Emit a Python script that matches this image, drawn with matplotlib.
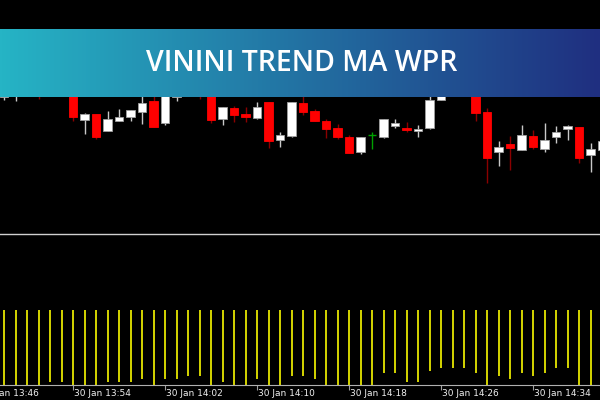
import numpy as np
import matplotlib
matplotlib.use("Agg")
import matplotlib.pyplot as plt

# one-minute candles, bar 0 = 13:48 (price in chart points)
opens = [153, 158, 180, 175, 162, 185, 170, 130, 136, 119.3, 129.3, 133, 138.3, 149, 127,
         153, 165, 180, 170, 130.7, 141.7, 136, 132, 147.7, 109.7, 114, 146.7, 139, 129,
         122.3, 113, 98.3, 115, 113.3, 124.3, 122.3, 119.3, 121.7, 150, 170, 190, 175,
         138.3, 98.3, 105.7, 100, 114, 101.3, 112.7, 120.7, 123, 94.7, 100]
highs = [160, 175, 185, 180, 184, 190, 174, 137, 136, 139, 141, 140, 160, 157, 165,
         180, 185, 185, 175, 143.3, 144.3, 142.7, 147.7, 148.3, 117.7, 147.7, 158, 140.7, 130.7,
         126, 114.7, 113, 118, 130.7, 130.7, 127.7, 124.7, 155, 175, 195, 195, 180,
         141.7, 109, 114, 125, 120, 127, 124, 125, 123, 107, 115]
lows = [150.5, 149.3, 158, 151.3, 158, 160, 129.3, 115.7, 110.7, 119.3, 129.3, 129.3, 126.3, 123.3, 125.3,
        149.3, 160, 151, 127.3, 125, 128.3, 128.3, 131.3, 101.7, 103.3, 113, 135, 129.3, 112.3,
        110.7, 97.3, 96.3, 100.7, 112, 122, 118.3, 113.3, 120.7, 150, 165, 165, 129.3,
        66.7, 84.3, 80, 100, 101.3, 98.3, 106.7, 110, 87.3, 78.3, 98]
closes = [158, 170, 165, 160, 178, 165, 133.3, 135.7, 113.3, 131, 132.7, 139.7, 146.7, 123.3, 162,
          170, 180, 160, 130, 143.3, 135, 133.3, 143.3, 109.3, 115.3, 147.7, 138.3, 129.3, 120.7,
          113.3, 97.3, 113, 115, 130.7, 127, 120.3, 121, 150, 170, 190, 170, 137.3,
          92.3, 103.5, 102.3, 114.7, 102.7, 110, 118, 123.7, 91.7, 101, 109.5]

# WPR histogram lower ends (top of every line is fixed)
wpr_low = [0, 0, 0, 0, 3.3, 3.3, 0, 0, 0, 3.3, 3.3, 3.3, 6, 0, 6, 6, 9, 9, 0, 3.3,
           0, 0, 6, 0, 0, 9, 9, 6, 0, 0, 0, 0, 0, 12.3, 12.3, 3.3, 3.3, 14.3, 17.3, 17.3,
           17.3, 12.3, 0, 9, 6, 12.3, 9, 12.3, 17.3, 17.3, 0, 0]
wpr_top = 75

tick_bars = [-2, 6, 14, 22, 30, 38, 46]
tick_labels = ["30 Jan 13:46", "30 Jan 13:54", "30 Jan 14:02", "30 Jan 14:10",
               "30 Jan 14:18", "30 Jan 14:26", "30 Jan 14:34"]

title = "VININI TREND MA WPR"

W, H = 600, 400
fig = plt.figure(figsize=(6, 4), dpi=100, facecolor="black")

xlim = (-4 / 11.5, 596 / 11.5)

# price pane
ax = fig.add_axes([0, 1 - 233 / H, 1, 233 / H], facecolor="black")
ax.set_xlim(*xlim)
ax.set_ylim(17, 250)
ax.axis("off")

for i, (o, h, l, c) in enumerate(zip(opens, highs, lows, closes)):
    if c > o:
        wick, face, edge = "#c8c8c8", "white", "#a0a0a0"
    elif c < o:
        wick, face, edge = "#8b0000", "#ff0000", "#ff0000"
    else:
        wick, face, edge = "#00a000", None, None
    ax.vlines(i, l, h, color=wick, lw=1, zorder=1)
    if face is None:
        ax.hlines(o, i - 0.35, i + 0.35, color=wick, lw=1, zorder=2)
    else:
        ax.bar(i, abs(c - o), bottom=min(o, c), width=0.7, color=face,
               edgecolor=edge, lw=0.6, zorder=2)

# separator between panes
fig.add_artist(plt.Line2D([0, 1], [1 - 234 / H] * 2, color="#d0d0d0", lw=1))

# indicator pane
ax2 = fig.add_axes([0, 15 / H, 1, 149 / H], facecolor="black")
ax2.set_xlim(*xlim)
ax2.set_ylim(0, 149)
idx = np.arange(len(wpr_low))
ax2.vlines(idx, wpr_low, wpr_top, color="#e6e600", lw=1.3)
for s in ("top", "left", "right"):
    ax2.spines[s].set_visible(False)
ax2.spines["bottom"].set_color("#b0b0b0")
ax2.set_yticks([])
ax2.set_xticks([b for b in tick_bars if b >= 0])
ax2.set_xticklabels([])
ax2.tick_params(axis="x", direction="out", length=3.5, color="#a0a0a0")
for b, lab in zip(tick_bars, tick_labels):
    ax2.text(b + 0.08, -0.06, lab, transform=ax2.get_xaxis_transform(),
             ha="left", va="center", fontsize=6.5, color="#f0f0f0", clip_on=False)

# title banner
axb = fig.add_axes([0, 1 - 97 / H, 1, 68 / H])
left = np.array([38, 180, 197]) / 255
right = np.array([31, 47, 128]) / 255
t = np.linspace(0, 1, 300)[None, :, None]
grad = left + (right - left) * t
axb.imshow(grad, aspect="auto", extent=[0, 1, 0, 1])
axb.set_xlim(0, 1)
axb.set_ylim(0, 1)
axb.axis("off")
axb.text(0.503, (97 - 71) / 68, title, ha="center", va="baseline",
         fontsize=20.5, fontweight="semibold", family=["Open Sans", "DejaVu Sans"],
         color="white")

fig.savefig("out.png", dpi=100, facecolor="black")
